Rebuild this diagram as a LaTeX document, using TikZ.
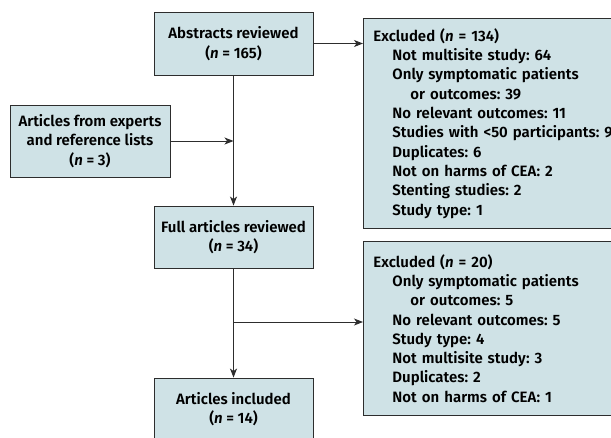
\documentclass[tikz,border=0pt]{standalone}
\usepackage{fontspec}
\IfFontExistsTF{Fira Sans SemiBold}{%
  \setmainfont{Fira Sans SemiBold}[ItalicFont={Fira Sans SemiBold Italic}, BoldFont={Fira Sans SemiBold}, BoldItalicFont={Fira Sans SemiBold Italic}]}{%
  \setmainfont{Fira Sans}[UprightFont={* Bold}, ItalicFont={* Bold Italic}]}
\usetikzlibrary{arrows.meta}
\definecolor{boxfill}{RGB}{207,226,230}
\definecolor{boxline}{RGB}{45,45,45}
\newcommand{\ia}{\hspace*{19pt}}
\newcommand{\ib}{\hspace*{37pt}}
\begin{document}
\frenchspacing
\begin{tikzpicture}[x=1pt,y=-1pt,
  box/.style={draw=boxline, line width=0.9pt, fill=boxfill, inner sep=0pt, align=center,
    font=\fontsize{15}{19.3}\selectfont\frenchspacing},
  listbox/.style={box, anchor=north west, align=left, text width=257pt, inner xsep=10pt},
  conn/.style={draw=boxline, line width=0.9pt},
  arr/.style={conn, -{Stealth[length=9pt,width=7pt,inset=2.5pt]}}]
\useasboundingbox (0,0) rectangle (611,437);
\clip (0,0) rectangle (611,437);
\node[box, minimum width=159pt, minimum height=63pt] (abs) at (233.5,43.5) {Abstracts reviewed\\(\textit{n} = 165)};
\node[box, minimum width=160pt, minimum height=72pt] (exp) at (90,141) {Articles from experts\\and reference lists\\(\textit{n} = 3)};
\node[box, minimum width=159pt, minimum height=62pt] (full) at (233.5,237) {Full articles reviewed\\(\textit{n} = 34)};
\node[box, minimum width=159pt, minimum height=62pt] (inc) at (233.5,409) {Articles included\\(\textit{n} = 14)};
\node[listbox, minimum height=210pt] (ex1) at (363,18) {Excluded (\textit{n} = 134)\\
\ia Not multisite study: 64\\
\ia Only symptomatic patients\\
\ib or outcomes: 39\\
\ia No relevant outcomes: 11\\
\ia Studies with <50 participants: 9\\
\ia Duplicates: 6\\
\ia Not on harms of CEA: 2\\
\ia Stenting studies: 2\\
\ia Study type: 1};
\node[listbox, minimum height=174pt] (ex2) at (363,241) {Excluded (\textit{n} = 20)\\
\ia Only symptomatic patients\\
\ib or outcomes: 5\\
\ia No relevant outcomes: 5\\
\ia Study type: 4\\
\ia Not multisite study: 3\\
\ia Duplicates: 2\\
\ia Not on harms of CEA: 1};
\coordinate (j1) at (abs.south |- exp.east);
\coordinate (j2) at (233.5,322);
\draw[arr] (abs.east) -- (abs.east -| ex1.west);
\draw[arr] (abs.south) -- (full.north);
\draw[arr] (exp.east) -- (j1);
\draw[arr] (full.south) -- (inc.north);
\draw[arr] (j2) -- (j2 -| ex2.west);
\end{tikzpicture}
\end{document}
